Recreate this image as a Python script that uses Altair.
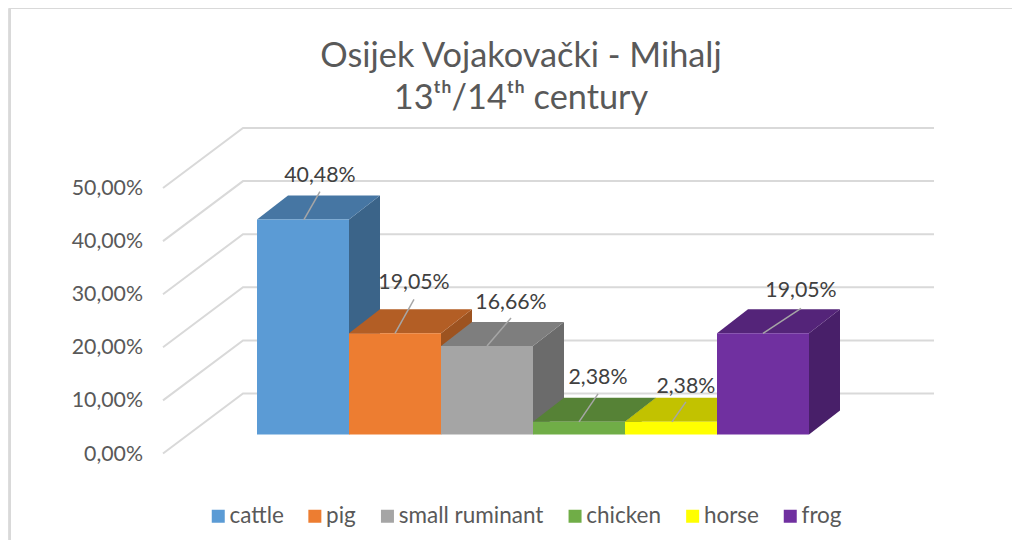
import altair as alt
import pandas as pd

CATEGORIES = ["cattle", "pig", "small ruminant", "chicken", "horse", "frog"]
VALUES = [40.48, 19.05, 16.66, 2.38, 2.38, 19.05]
LABELS = ["40,48%", "19,05%", "16,66%", "2,38%", "2,38%", "19,05%"]
FRONT = ["#5B9BD5", "#ED7D31", "#A5A5A5", "#70AD47", "#FFFF00", "#7030A0"]
TOP = ["#4676A3", "#B35E25", "#7E7E7E", "#568236", "#C2C200", "#542479"]
SIDE = ["#3B6489", "#9D5320", "#6B6B6B", "#4A7230", "#A8A800", "#481F69"]
TICKS = [0, 10, 20, 30, 40, 50]
TICK_LABELS = ["0,00%", "10,00%", "20,00%", "30,00%", "40,00%", "50,00%"]
LEADER_X = [0.51, 0.50, 0.50, 0.50, 0.51, 0.50]
LEADER_END_PX = [(16, -28), (19, -34), (24, -28), (19, -28), (14, -20), (38, -25)]
LABEL_GAP_PX = [16, 16, 15, 16, 15, 17]

PX_X = 92.0   # pixels per category
PX_Y = 5.31   # pixels per percent
DEPTH_X = 31 / PX_X
DEPTH_Y = 24 / PX_Y
WALL_FRONT_X = (163 - 257) / PX_X
WALL_BACK_X = (243 - 257) / PX_X
WALL_END_X = (934 - 257) / PX_X
WALL_FRONT_Y = -19 / PX_Y
WALL_BACK_Y = 41 / PX_Y

W, H = 1004, 532
BASE_PX = 434.5
x_scale = alt.Scale(domain=[(8 - 257) / PX_X, (8 + W - 257) / PX_X], nice=False, zero=False)
y_scale = alt.Scale(domain=[(BASE_PX - 8 - H) / PX_Y, (BASE_PX - 8) / PX_Y], nice=False, zero=False)
X = alt.X("x:Q", scale=x_scale, axis=None)
Y = alt.Y("y:Q", scale=y_scale, axis=None)

layers = []

# Frame of the chart
layers.append(alt.Chart(pd.DataFrame({"a": [0]})).mark_rule(color="#D9D9D9", strokeWidth=2).encode(
    x=alt.value(2), y=alt.value(0), y2=alt.value(H)))
layers.append(alt.Chart(pd.DataFrame({"a": [0]})).mark_rule(color="#D9D9D9", strokeWidth=2).encode(
    x=alt.value(2), x2=alt.value(W), y=alt.value(0)))

# Gridlines: floor-wall diagonal then back wall
grid_rows = []
for t in TICKS:
    grid_rows += [
        {"tick": t, "x": WALL_FRONT_X, "y": t + WALL_FRONT_Y},
        {"tick": t, "x": WALL_BACK_X, "y": t + WALL_BACK_Y},
        {"tick": t, "x": WALL_END_X, "y": t + WALL_BACK_Y},
    ]
layers.append(alt.Chart(pd.DataFrame(grid_rows)).mark_line(color="#D9D9D9", strokeWidth=2).encode(
    x=X, y=Y, detail="tick:N"))

# Y tick labels
tick_df = pd.DataFrame({"x": [(143 - 257) / PX_X] * 6,
                        "y": [t + WALL_FRONT_Y - 1 / PX_Y for t in TICKS],
                        "t": TICK_LABELS})
layers.append(alt.Chart(tick_df).mark_text(align="right", baseline="middle", font="Lato", fontSize=21.3,
                                           color="#595959").encode(x=X, y=Y, text="t:N"))

color = alt.Color("cat:N", scale=alt.Scale(domain=CATEGORIES, range=FRONT),
                  legend=alt.Legend(title=None, orient="none", legendX=199, legendY=497, direction="horizontal",
                                    columns=6, gridAlign="none", columnPadding=19.6, symbolType="square",
                                    symbolSize=169, symbolStrokeWidth=0, labelFont="Lato", labelFontSize=22.5,
                                    labelColor="#595959", labelOffset=0, labelLimit=300))

for i, (cat, v) in enumerate(zip(CATEGORIES, VALUES)):
    x0, x1 = float(i), float(i + 1)
    side = pd.DataFrame({"x": [x1, x1 + DEPTH_X], "y": [v, v + DEPTH_Y], "y0": [0, DEPTH_Y]})
    top = pd.DataFrame({"x": [x0, x0 + DEPTH_X, x1, x1 + DEPTH_X],
                        "y": [v, v + DEPTH_Y, v + DEPTH_Y, v + DEPTH_Y],
                        "y0": [v, v, v, v + DEPTH_Y]})
    front = pd.DataFrame({"x": [x0], "x1": [x1], "y": [v], "y0": [0], "cat": [cat]})
    layers.append(alt.Chart(side).mark_area(color=SIDE[i], opacity=1).encode(x=X, y=Y, y2="y0:Q"))
    layers.append(alt.Chart(top).mark_area(color=TOP[i], opacity=1).encode(x=X, y=Y, y2="y0:Q"))
    layers.append(alt.Chart(front).mark_rect().encode(x=X, x2="x1:Q", y=Y, y2="y0:Q", color=color))

# Leader lines and data labels on top of everything
for i, (lab, v) in enumerate(zip(LABELS, VALUES)):
    sx = i + LEADER_X[i]
    ex = sx + LEADER_END_PX[i][0] / PX_X
    ey = v - LEADER_END_PX[i][1] / PX_Y
    leader = pd.DataFrame({"x": [sx], "x1": [ex], "y": [v], "y1": [ey]})
    layers.append(alt.Chart(leader).mark_rule(color="#A6A6A6", strokeWidth=1.5).encode(
        x=X, x2="x1:Q", y=Y, y2="y1:Q"))
    label = pd.DataFrame({"x": [ex], "y": [ey + LABEL_GAP_PX[i] / PX_Y], "t": [lab]})
    layers.append(alt.Chart(label).mark_text(font="Lato", fontSize=21.3, color="#404040", baseline="middle").encode(
        x=X, y=Y, text="t:N"))

chart = alt.layer(*layers).properties(
    width=W, height=H, padding=0,
    autosize=alt.AutoSizeParams(type="none"),
    title=alt.TitleParams(
        text=["Osijek Vojakovački - Mihalj", "13ᵗʰ/14ᵗʰ century"],
        font="Lato", fontSize=34.3, fontWeight="normal", color="#595959",
        anchor="middle", frame="group", dx=11, offset=-143, lineHeight=42, baseline="bottom"),
).configure_view(stroke=None).configure(background="white")

chart.save("out.html", embed_options={"renderer": "svg", "actions": False})
